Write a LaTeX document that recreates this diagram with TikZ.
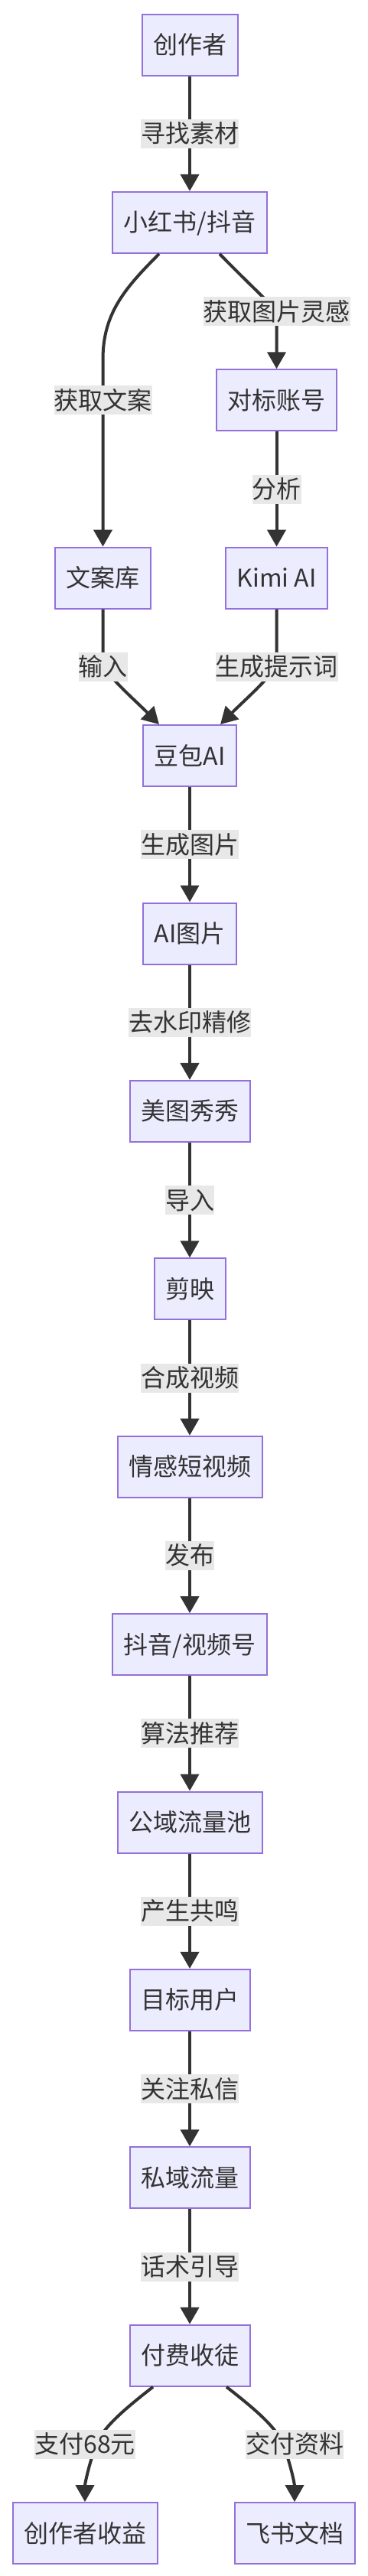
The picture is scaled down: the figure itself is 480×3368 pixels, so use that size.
\documentclass[tikz,border=0pt]{standalone}
\usepackage{fontspec}
\setmainfont{Noto Sans CJK SC}
\usetikzlibrary{arrows.meta}
\definecolor{boxfill}{HTML}{ECECFF}
\definecolor{boxline}{HTML}{9370DB}
\definecolor{ink}{HTML}{333333}
\definecolor{lblbg}{HTML}{E8E8E8}

\begin{document}
\begin{tikzpicture}[x=1pt,y=-1pt,
  box/.style={draw=boxline, fill=boxfill, line width=2pt, inner xsep=14.5pt, inner ysep=0pt,
    minimum height=80pt, text=ink, font=\fontsize{32}{38}\selectfont, text height=28pt, text depth=4pt},
  lbl/.style={fill=lblbg, inner sep=0pt, minimum height=38pt, text=ink,
    font=\fontsize{32}{38}\selectfont, text height=28pt, text depth=4pt},
  flow/.style={draw=ink, line width=4pt, -{Triangle[width=24pt,length=22pt]}}]%,cap=round]
  \useasboundingbox (0,0) rectangle (480,3368);

  \node[box] (creator) at (248,58.5) {创作者};
  \node[box] (xhs) at (248,290.9) {小红书/抖音};
  \node[box] (bench) at (361.5,523.3) {对标账号};
  \node[box] (copylib) at (134.5,755.7) {文案库};
  \node[box] (kimi) at (361.5,755.7) {Kimi AI};
  \node[box] (doubao) at (248,988.1) {豆包AI};
  \node[box] (aiimg) at (248,1220.5) {AI图片};
  \node[box] (meitu) at (248,1452.9) {美图秀秀};
  \node[box] (jianying) at (248,1685.3) {剪映};
  \node[box] (video) at (248,1917.7) {情感短视频};
  \node[box] (platform) at (248,2150.1) {抖音/视频号};
  \node[box] (pool) at (248,2382.5) {公域流量池};
  \node[box] (target) at (248,2614.9) {目标用户};
  \node[box] (private) at (248,2847.3) {私域流量};
  \node[box] (pay) at (248,3079.7) {付费收徒};
  \node[box] (income) at (111,3312.1) {创作者收益};
  \node[box] (feishu) at (385,3312.1) {飞书文档};

  \draw[flow] (creator) -- node[lbl] {寻找素材} (xhs);
  \draw[flow] ([xshift=-40pt]xhs.south) .. controls +(-45,45) and +(0,-60) .. (134.5,470)
    -- (134.5,523.3) node[lbl] {获取文案} -- (copylib.north);
  \draw[flow] ([xshift=39pt]xhs.south) .. controls +(35,36) and +(-12,-14) .. (361.5,407)
    node[lbl] {获取图片灵感} .. controls +(0,25) and +(0,-30) .. (bench.north);
  \draw[flow] (bench) -- node[lbl] {分析} (kimi);
  \draw[flow] (copylib.south) -- (134.5,871.9) node[lbl] {输入}
    .. controls +(20,25) and +(-30,-30) .. ([xshift=-40pt]doubao.north);
  \draw[flow] (kimi.south) -- (361.5,871.9) node[lbl] {生成提示词}
    .. controls +(-20,25) and +(30,-30) .. ([xshift=40pt]doubao.north);
  \draw[flow] (doubao) -- node[lbl] {生成图片} (aiimg);
  \draw[flow] (aiimg) -- node[lbl] {去水印精修} (meitu);
  \draw[flow] (meitu) -- node[lbl] {导入} (jianying);
  \draw[flow] (jianying) -- node[lbl] {合成视频} (video);
  \draw[flow] (video) -- node[lbl] {发布} (platform);
  \draw[flow] (platform) -- node[lbl] {算法推荐} (pool);
  \draw[flow] (pool) -- node[lbl] {产生共鸣} (target);
  \draw[flow] (target) -- node[lbl] {关注私信} (private);
  \draw[flow] (private) -- node[lbl] {话术引导} (pay);
  \draw[flow] ([xshift=-48pt]pay.south) .. controls +(-45,35) and +(8,-20) .. (126,3195.9)
    node[lbl,xshift=-15pt] {支付68元} .. controls +(-8,20) and +(0,-25) .. (income.north);
  \draw[flow] ([xshift=48pt]pay.south) .. controls +(45,35) and +(-8,-20) .. (370,3195.9)
    node[lbl,xshift=15pt] {交付资料} .. controls +(8,20) and +(0,-25) .. (feishu.north);
\end{tikzpicture}
\end{document}
